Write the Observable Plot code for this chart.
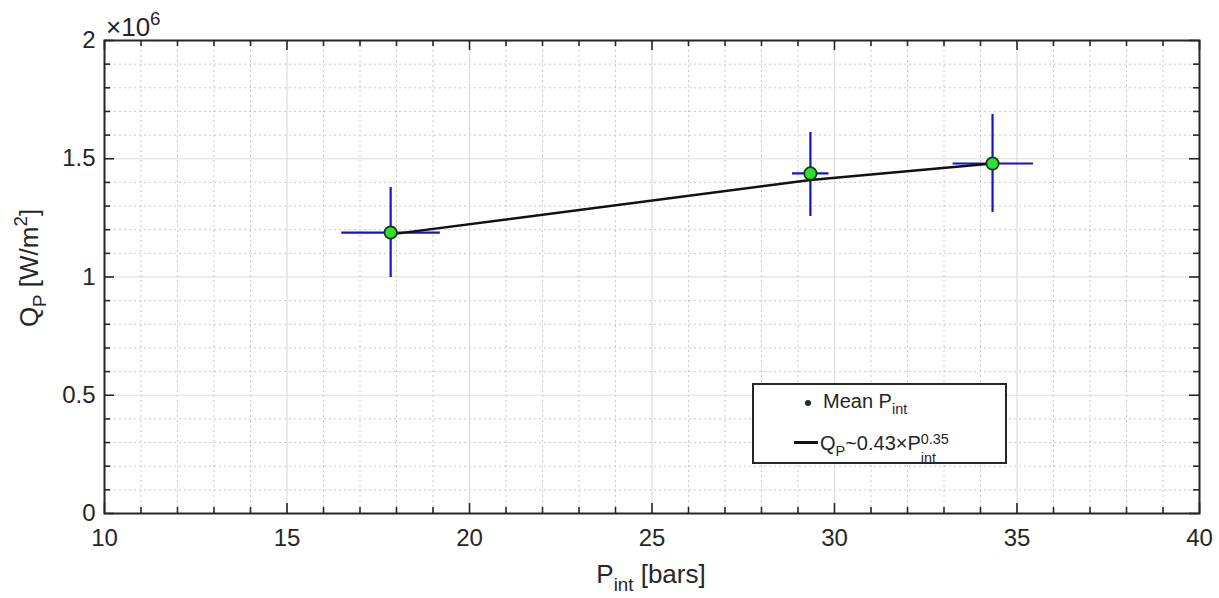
<!DOCTYPE html>
<html><head><meta charset="utf-8">
<script src="https://cdn.jsdelivr.net/npm/d3@7"></script>
<script src="https://cdn.jsdelivr.net/npm/@observablehq/plot@0.6"></script>
<style>
body{margin:0;background:#fff;font-family:"Liberation Sans",Arial,sans-serif;}
#wrap{position:relative;width:1219px;height:598px;overflow:hidden;}
.ov{position:absolute;color:#262626;white-space:nowrap;line-height:1;}
.sub{font-size:0.72em;vertical-align:-0.45em;}
.sup{font-size:0.72em;vertical-align:0.55em;}
.ss{display:inline-flex;flex-direction:column;font-size:0.72em;line-height:1.3;vertical-align:0.4em;}
</style></head><body><div id="wrap"></div>
<script>
// Data
const pressure      = [17.84, 29.34, 34.33];          // P_int [bars]
const heatFlux      = [1.188e6, 1.438e6, 1.480e6];    // Q_P [W/m^2]
const pressureLow   = [16.5, 28.85, 33.25];
const pressureHigh  = [19.2, 29.85, 35.45];
const fluxLow       = [0.998e6, 1.256e6, 1.273e6];
const fluxHigh      = [1.378e6, 1.611e6, 1.687e6];
const fitPressure   = [17.84, 29.34, 34.33];
const fitFlux       = [1.18e6, 1.41e6, 1.48e6];
const xMajorTicks   = [10, 15, 20, 25, 30, 35, 40];
const yMajorTicks   = [0, 0.5e6, 1e6, 1.5e6, 2e6];
const xMinorTicks   = d3.range(10, 41, 1).filter(v => v % 5 !== 0);
const yMinorTicks   = d3.range(0, 21, 1).filter(v => v % 5 !== 0).map(v => v * 1e5);

const points = pressure.map((p, i) => ({p, q: heatFlux[i], pLo: pressureLow[i], pHi: pressureHigh[i], qLo: fluxLow[i], qHi: fluxHigh[i]}));
const fit = fitPressure.map((p, i) => ({p, q: fitFlux[i]}));

const W = 1219, H = 598, mt = 40, mb = 85, ml = 104, mr = 20;
const ph = H - mt - mb, pw = W - ml - mr;
const ink = "#262626";

const chart = Plot.plot({
  width: W, height: H,
  marginTop: mt, marginBottom: mb, marginLeft: ml, marginRight: mr,
  style: {fontFamily: '"Liberation Sans", Arial, sans-serif', fontSize: "24px", color: ink, background: "white"},
  x: {domain: [10, 40], label: null},
  y: {domain: [0, 2e6], label: null},
  marks: [
    Plot.gridX(xMinorTicks, {stroke: "#c8c8c8", strokeOpacity: 1, strokeDasharray: "2,3", strokeWidth: 1}),
    Plot.gridY(yMinorTicks, {stroke: "#c8c8c8", strokeOpacity: 1, strokeDasharray: "2,3", strokeWidth: 1}),
    Plot.gridX(xMajorTicks, {stroke: "#dcdcdc", strokeOpacity: 1, strokeWidth: 1.2}),
    Plot.gridY(yMajorTicks, {stroke: "#dcdcdc", strokeOpacity: 1, strokeWidth: 1.2}),
    Plot.axisX(xMajorTicks, {tickSize: 0, tickPadding: 15, tickFormat: d => d, fill: ink}),
    Plot.axisY(yMajorTicks, {tickSize: 0, tickPadding: 9, tickFormat: d => d / 1e6, fill: ink}),
    // inward tick marks (MATLAB style) on all four sides
    Plot.tickX(xMinorTicks, {x: d => d, insetTop: ph - 6, stroke: ink, strokeWidth: 1.6}),
    Plot.tickX(xMinorTicks, {x: d => d, insetBottom: ph - 6, stroke: ink, strokeWidth: 1.6}),
    Plot.tickX(xMajorTicks, {x: d => d, insetTop: ph - 10, stroke: ink, strokeWidth: 1.6}),
    Plot.tickX(xMajorTicks, {x: d => d, insetBottom: ph - 10, stroke: ink, strokeWidth: 1.6}),
    Plot.tickY(yMinorTicks, {y: d => d, insetRight: pw - 6, stroke: ink, strokeWidth: 1.6}),
    Plot.tickY(yMinorTicks, {y: d => d, insetLeft: pw - 6, stroke: ink, strokeWidth: 1.6}),
    Plot.tickY(yMajorTicks, {y: d => d, insetRight: pw - 10, stroke: ink, strokeWidth: 1.6}),
    Plot.tickY(yMajorTicks, {y: d => d, insetLeft: pw - 10, stroke: ink, strokeWidth: 1.6}),
    // error bars
    Plot.ruleY(points, {y: "q", x1: "pLo", x2: "pHi", stroke: "#1414c8", strokeWidth: 2.2}),
    Plot.ruleX(points, {x: "p", y1: "qLo", y2: "qHi", stroke: "#1414c8", strokeWidth: 2.2}),
    // fit line
    Plot.line(fit, {x: "p", y: "q", stroke: "#111", strokeWidth: 2.4}),
    // mean points
    Plot.dot(points, {x: "p", y: "q", r: 6.2, fill: "#2ee02e", stroke: "#163816", strokeWidth: 1.8}),
    Plot.frame({stroke: ink, strokeWidth: 2})
  ]
});
const wrap = document.getElementById("wrap");
wrap.appendChild(chart);

function ov(html, style) {
  const d = document.createElement("div");
  d.className = "ov";
  d.innerHTML = html;
  Object.assign(d.style, style);
  wrap.appendChild(d);
  return d;
}
// exponent label
ov('&times;10<span class="sup" style="vertical-align:0.6em">6</span>', {left: "106px", top: "10px", fontSize: "26px"});
// x axis label
ov('P<span class="sub">int</span> [bars]', {left: "651px", top: "561px", fontSize: "26px", transform: "translateX(-50%)"});
// y axis label
ov('Q<span class="sub">P</span> [W/m<span class="sup">2</span>]', {left: "31px", top: "268px", fontSize: "26px", transform: "translate(-50%,-50%) rotate(-90deg)"});

// legend
const lg = document.createElement("div");
Object.assign(lg.style, {position: "absolute", left: "752px", top: "383px", width: "251px", height: "77px", border: "2px solid " + ink, background: "white"});
wrap.appendChild(lg);
const dotEl = document.createElement("div");
Object.assign(dotEl.style, {position: "absolute", left: "808px", top: "403px", width: "6px", height: "6px", marginLeft: "-3px", marginTop: "-3px", borderRadius: "50%", background: "#1e2e1e"});
wrap.appendChild(dotEl);
ov('Mean P<span class="sub">int</span>', {left: "823px", top: "391px", fontSize: "20px"});
const lineEl = document.createElement("div");
Object.assign(lineEl.style, {position: "absolute", left: "794px", top: "441px", width: "24px", height: "2.5px", background: "#111"});
wrap.appendChild(lineEl);
ov('Q<span class="sub">P</span>~0.43&times;P<span class="ss"><span>0.35</span><span>int</span></span>', {left: "820px", top: "430px", fontSize: "20px"});
</script></body></html>
